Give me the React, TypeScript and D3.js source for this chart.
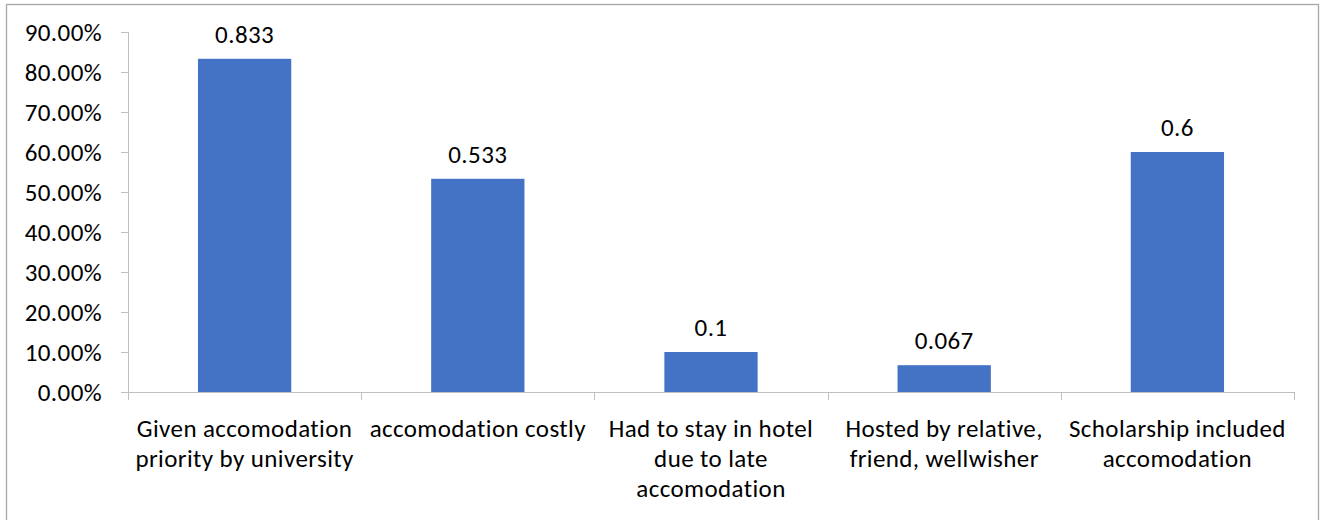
import React, { useEffect, useRef } from "react";
import * as d3 from "d3";

const categories: string[][] = [
  ["Given accomodation", "priority by university"],
  ["accomodation costly"],
  ["Had to stay in hotel", "due to late", "accomodation"],
  ["Hosted by relative,", "friend, wellwisher"],
  ["Scholarship included", "accomodation"],
];
const values: number[] = [0.833, 0.533, 0.1, 0.067, 0.6];
const valueLabels: string[] = ["0.833", "0.533", "0.1", "0.067", "0.6"];
const yTicks: number[] = [0, 0.1, 0.2, 0.3, 0.4, 0.5, 0.6, 0.7, 0.8, 0.9];

const W = 1325;
const H = 520;
const FONT = "Carlito, Calibri, Lato, 'Open Sans', sans-serif";
const FS = 25;
const LS = 0.4;

export default function App() {
  const ref = useRef<SVGSVGElement | null>(null);

  useEffect(() => {
    const svg = d3.select(ref.current);
    svg.selectAll("*").remove();

    const left = 128;
    const right = 1294;
    const top = 32;
    const bottom = 392;

    svg
      .append("rect")
      .attr("x", 6.5)
      .attr("y", 4.5)
      .attr("width", 1312)
      .attr("height", 530)
      .attr("fill", "#fff")
      .attr("stroke", "#a6a6a6")
      .attr("stroke-width", 1.3);

    const x = d3
      .scaleBand<number>()
      .domain(d3.range(categories.length))
      .range([left, right])
      .paddingInner(0.6)
      .paddingOuter(0.3);

    const y = d3.scaleLinear().domain([0, 0.9]).range([bottom, top]);

    const grey = "#bfbfbf";

    // y axis
    const ya = svg.append("g");
    ya.append("line")
      .attr("x1", left + 0.5)
      .attr("x2", left + 0.5)
      .attr("y1", y(0.9))
      .attr("y2", y(0))
      .attr("stroke", grey);
    yTicks.forEach((t) => {
      ya.append("line")
        .attr("x1", left - 7)
        .attr("x2", left)
        .attr("y1", Math.round(y(t)) + 0.5)
        .attr("y2", Math.round(y(t)) + 0.5)
        .attr("stroke", grey);
      ya.append("text")
        .attr("x", left - 26)
        .attr("y", y(t))
        .attr("dy", "0.35em")
        .attr("text-anchor", "end")
        .attr("font-family", FONT)
        .attr("font-size", FS)
        .attr("letter-spacing", LS)
        .attr("fill", "#000")
        .text(d3.format(".2%")(t));
    });

    // bars
    svg
      .append("g")
      .selectAll("rect")
      .data(values)
      .join("rect")
      .attr("x", (_, i) => x(i)!)
      .attr("width", x.bandwidth())
      .attr("y", (d) => y(d))
      .attr("height", (d) => y(0) - y(d))
      .attr("fill", "#4472c4");

    // value labels
    svg
      .append("g")
      .selectAll("text")
      .data(values)
      .join("text")
      .attr("x", (_, i) => x(i)! + x.bandwidth() / 2)
      .attr("y", (d) => y(d) - 16)
      .attr("text-anchor", "middle")
      .attr("font-family", FONT)
      .attr("font-size", FS)
      .attr("letter-spacing", LS)
      .attr("fill", "#000")
      .text((_, i) => valueLabels[i]);

    // x axis
    const step = (right - left) / categories.length;
    svg
      .append("line")
      .attr("x1", left - 7)
      .attr("x2", right)
      .attr("y1", bottom + 0.5)
      .attr("y2", bottom + 0.5)
      .attr("stroke", grey);
    d3.range(categories.length + 1).forEach((i) => {
      const px = Math.round(left + i * step) + 0.5;
      svg
        .append("line")
        .attr("x1", px)
        .attr("x2", px)
        .attr("y1", bottom)
        .attr("y2", bottom + 8)
        .attr("stroke", grey);
    });

    const xl = svg.append("g");
    categories.forEach((lines, i) => {
      const cx = left + (i + 0.5) * step;
      const t = xl
        .append("text")
        .attr("text-anchor", "middle")
        .attr("font-family", FONT)
        .attr("font-size", FS)
        .attr("letter-spacing", LS)
        .attr("fill", "#000");
      lines.forEach((ln, j) => {
        t.append("tspan")
          .attr("x", cx)
          .attr("y", 437 + j * 30)
          .text(ln);
      });
    });
  }, []);

  return (
    <svg
      ref={ref}
      width={W}
      height={H}
      style={{ position: "absolute", left: 0, top: 0, background: "#fff" }}
    />
  );
}
